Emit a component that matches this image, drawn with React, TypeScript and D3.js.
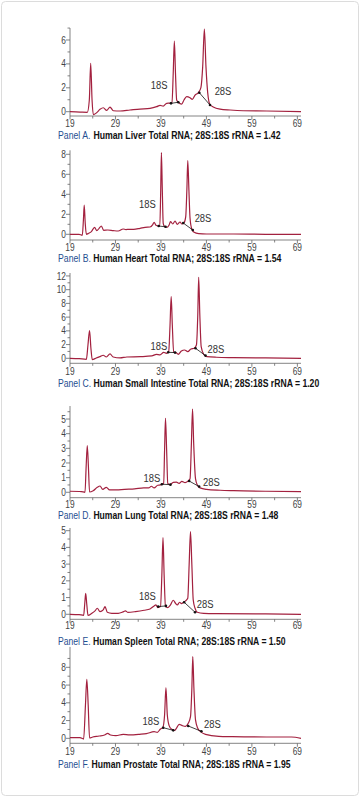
import React from "react";
import * as d3 from "d3";

type Pt = [number, number];

// Migration time (s) vs fluorescence
const traceA: Pt[] = [
  [19.0, 0.0], [21.2, -0.03], [22.8, -0.05], [23.25, 0.98], [23.55, 4.05], [23.85, 0.98], [24.13, -0.25],
  [24.87, -0.08], [25.6, 0.2], [26.33, 0.33], [27.06, 0.11], [27.8, 0.39], [28.53, 0.08], [30.0, 0.06],
  [32.2, 0.14], [34.4, 0.22], [36.6, 0.28], [38.06, 0.42], [38.8, 0.53], [39.5, 0.47], [40.26, 0.7],
  [41.0, 0.72], [41.43, 0.75], [41.7, 3.2], [41.95, 5.9], [42.2, 3.2], [42.46, 0.98], [42.83, 0.79],
  [43.56, 0.64], [44.07, 0.98], [44.66, 1.26], [45.39, 1.17], [45.9, 1.03], [46.5, 1.39], [47.23, 1.6],
  [47.8, 2.04], [48.18, 3.77], [48.55, 6.92], [48.9, 3.77], [49.28, 1.6], [49.8, 0.58], [50.5, 0.4],
  [52.0, 0.22], [54.2, 0.14], [57.1, 0.08], [62.25, 0.06], [69.8, 0.0],
];
const traceB: Pt[] = [
  [19.0, 0.0], [21.0, 0.0], [21.7, -0.1], [21.95, 1.43], [22.13, 2.93], [22.35, 1.1], [22.6, 0.0],
  [23.1, 0.1], [23.7, 0.27], [24.4, 0.7], [24.9, 0.37], [25.4, 0.6], [25.9, 0.83], [26.4, 0.4],
  [27.3, 0.43], [28.5, 0.37], [29.6, 0.33], [30.7, 0.53], [31.3, 0.47], [32.0, 0.5], [33.0, 0.5],
  [34.4, 0.6], [35.5, 0.7], [36.6, 0.73], [37.2, 0.97], [37.5, 1.2], [37.9, 0.9], [38.4, 0.83],
  [38.75, 0.83], [38.95, 4.43], [39.1, 8.17], [39.3, 4.43], [39.5, 1.1], [39.8, 0.77], [40.3, 0.7],
  [40.8, 0.93], [41.1, 1.27], [41.6, 1.03], [42.1, 1.33], [42.6, 1.0], [43.2, 1.23], [43.6, 1.03],
  [44.1, 1.17], [44.45, 1.77], [44.7, 4.43], [44.9, 7.37], [45.15, 4.43], [45.4, 1.6], [45.8, 0.5],
  [46.3, 0.2], [47.3, 0.07], [49.0, 0.03], [55.0, 0.03], [62.0, 0.0], [69.8, 0.0],
];
const traceC: Pt[] = [
  [19.0, 0.0], [21.0, -0.05], [22.6, -0.15], [22.95, 1.94], [23.3, 4.03], [23.6, 1.46], [23.9, -0.19],
  [24.8, 0.05], [25.6, 0.24], [26.3, 0.44], [27.0, 0.19], [27.8, 0.63], [28.5, 0.19], [30.0, 0.05],
  [31.5, 0.19], [34.5, 0.24], [37.0, 0.34], [38.0, 0.58], [38.8, 0.49], [39.6, 0.87], [40.2, 0.73],
  [40.7, 0.97], [41.0, 4.86], [41.25, 8.99], [41.5, 4.86], [41.8, 0.87], [42.3, 0.83], [42.8, 0.58],
  [43.5, 1.07], [44.2, 1.21], [44.9, 0.97], [45.6, 1.36], [46.3, 1.46], [46.8, 1.94], [47.1, 6.32],
  [47.3, 11.8], [47.55, 6.32], [47.85, 1.7], [48.4, 0.58], [49.1, 0.24], [51.2, 0.15], [54.9, 0.1],
  [62.0, 0.05], [69.8, 0.0],
];
const traceD: Pt[] = [
  [19.0, 0.07], [21.5, 0.05], [22.3, 0.0], [22.55, 1.75], [22.8, 3.18], [23.05, 1.75], [23.3, 0.02],
  [24.1, 0.11], [25.0, 0.34], [25.6, 0.43], [26.2, 0.2], [27.0, 0.34], [27.7, 0.16], [29.2, 0.16],
  [31.0, 0.2], [33.2, 0.23], [35.2, 0.3], [36.3, 0.3], [36.9, 0.41], [37.5, 0.3], [38.3, 0.48],
  [38.9, 0.5], [39.3, 0.57], [39.6, 0.59], [39.8, 2.89], [40.0, 5.05], [40.25, 2.89], [40.5, 0.61],
  [41.0, 0.52], [41.7, 0.68], [42.4, 0.7], [43.0, 0.61], [43.6, 0.75], [44.3, 0.66], [44.9, 0.75],
  [45.4, 0.93], [45.7, 3.34], [45.95, 5.68], [46.2, 3.34], [46.6, 0.93], [47.0, 0.5], [47.6, 0.3],
  [49.0, 0.2], [52.0, 0.14], [55.0, 0.11], [62.0, 0.07], [69.8, 0.05],
];
const traceE: Pt[] = [
  [19.0, 0.0], [21.0, -0.02], [22.0, -0.06], [22.25, 0.66], [22.45, 1.25], [22.7, 0.56], [22.95, -0.06],
  [23.8, 0.06], [24.5, 0.2], [25.0, 0.36], [25.6, 0.16], [26.3, 0.26], [26.7, 0.46], [27.2, 0.12],
  [28.2, 0.06], [29.6, 0.06], [30.8, 0.16], [31.2, 0.2], [31.7, 0.12], [33.4, 0.16], [35.3, 0.24],
  [36.6, 0.32], [37.5, 0.5], [37.9, 0.56], [38.3, 0.4], [38.9, 0.46], [39.2, 2.35], [39.45, 4.58],
  [39.7, 2.35], [40.0, 0.46], [40.5, 0.4], [41.1, 0.56], [41.7, 0.84], [42.2, 0.66], [42.6, 0.56],
  [43.1, 0.72], [43.5, 0.64], [44.0, 0.72], [44.4, 0.8], [44.9, 0.96], [45.2, 2.95], [45.5, 4.94],
  [45.8, 2.95], [46.1, 0.86], [46.5, 0.36], [47.0, 0.12], [48.4, 0.06], [51.3, 0.04], [62.0, 0.02],
  [69.8, 0.0],
];
const traceF: Pt[] = [
  [19.0, 0.08], [21.2, 0.08], [22.0, -0.08], [22.4, 3.76], [22.7, 6.65], [23.0, 3.76], [23.3, 0.04],
  [24.0, 0.15], [25.4, 0.26], [26.6, 0.38], [27.3, 0.56], [27.9, 0.38], [29.1, 0.3], [30.7, 0.45],
  [32.1, 0.38], [34.3, 0.45], [35.8, 0.53], [37.5, 0.75], [38.2, 0.68], [38.9, 1.05], [39.4, 1.2],
  [39.8, 2.63], [40.1, 5.71], [40.4, 2.63], [40.8, 1.43], [41.3, 1.05], [42.0, 0.9], [42.4, 1.13],
  [43.0, 1.58], [43.7, 1.43], [44.4, 1.35], [45.0, 1.69], [45.5, 2.44], [45.8, 5.64], [46.0, 9.21],
  [46.25, 5.64], [46.6, 2.07], [47.1, 1.13], [47.7, 0.75], [48.8, 0.45], [51.7, 0.23], [54.7, 0.19],
  [62.2, 0.15], [67.7, 0.15], [69.8, 0.0],
];

// baseline integration segments [x1, y1, x2, y2]
const seg18S: number[][] = [
  [41.21, 0.7, 42.82, 0.79],
  [38.5, 0.83, 40.0, 0.75],
  [40.6, 0.87, 42.1, 0.83],
  [39.2, 0.55, 41.1, 0.52],
  [38.4, 0.46, 40.1, 0.5],
  [39.5, 1.2, 41.7, 0.9],
];
const seg28S: number[][] = [
  [47.44, 1.59, 49.79, 0.56],
  [43.9, 1.13, 46.0, 0.43],
  [46.6, 1.46, 48.8, 0.39],
  [45.2, 0.77, 47.4, 0.39],
  [44.1, 0.72, 46.5, 0.12],
  [45.0, 1.39, 47.9, 0.79],
];
// label anchors (data units: centre x, baseline y)
const label18S: number[][] = [[38.6, 1.94], [36.04, 2.6], [38.57, 1.25], [37.0, 0.72], [36.04, 0.84], [36.8, 1.5]];
const label28S: number[][] = [[52.65, 1.4], [48.25, 1.26], [51.1, 0.82], [50.1, 0.45], [48.7, 0.36], [50.3, 1.13]];

const panelLetters = ["A", "B", "C", "D", "E", "F"];
const captions = [
  "Human Liver Total RNA; 28S:18S rRNA = 1.42",
  "Human Heart Total RNA; 28S:18S rRNA = 1.54",
  "Human Small Intestine Total RNA; 28S:18S rRNA = 1.20",
  "Human Lung Total RNA; 28S:18S rRNA = 1.48",
  "Human Spleen Total RNA; 28S:18S rRNA = 1.50",
  "Human Prostate Total RNA; 28S:18S rRNA = 1.95",
];
const yDomains: number[][] = [[-0.36, 7.0], [-0.57, 8.4], [-0.73, 12.43], [-0.37, 5.89], [-0.3, 5.16], [-0.56, 10.3]];
const yMajorTicks: number[][] = [
  [0, 2, 4, 6], [0, 2, 4, 6, 8], [0, 2, 4, 6, 8, 10, 12], [0, 1, 2, 3, 4, 5], [0, 1, 2, 3, 4, 5], [0, 2, 4, 6, 8],
];
const yMinorTicks: number[][] = [
  [1, 3, 5, 7], [1, 3, 5, 7], [1, 3, 5, 7, 9, 11], [0.5, 1.5, 2.5, 3.5, 4.5, 5.5], [0.5, 1.5, 2.5, 3.5, 4.5], [1, 3, 5, 7, 9],
];
const xLabeledTicks = [19, 29, 39, 49, 59, 69];
const xMinorTicks = [24, 34, 44, 54, 64];
const xDomain = [19, 69.8];

const traces = [traceA, traceB, traceC, traceD, traceE, traceF];

// layout in pixels: plot top / bottom, x-label baseline, caption baseline & width
const layout = [
  { top: 28.05, bottom: 116, xlab: 127.3, caption: 139, capW: 223 },
  { top: 150.3, bottom: 240, xlab: 251, caption: 261.8, capW: 224 },
  { top: 273, bottom: 363.3, xlab: 375, caption: 386.8, capW: 262 },
  { top: 406, bottom: 497.7, xlab: 507.5, caption: 519, capW: 221 },
  { top: 528, bottom: 619.3, xlab: 629, caption: 645, capW: 228 },
  { top: 646.9, bottom: 743.3, xlab: 755, caption: 768, capW: 233 },
];

const LEFT = 70;
const RIGHT = 301;
const FONT = "'Liberation Sans', Arial, sans-serif";
const LINE = "#a3213f";
const NARROW = 0.82;
const CAP_SIZE = 10;
const TICK_SIZE = 10.2;

let _ctx: CanvasRenderingContext2D | null = null;
function measure(text: string, weight: string, size: number): number {
  if (typeof document === "undefined") return text.length * size * 0.55;
  if (!_ctx) _ctx = document.createElement("canvas").getContext("2d");
  if (!_ctx) return text.length * size * 0.55;
  _ctx.font = `${weight} ${size}px 'Liberation Sans', Arial, sans-serif`;
  return _ctx.measureText(text).width;
}

function NText({
  x,
  y,
  anchor,
  size,
  fill,
  dy,
  sx = NARROW,
  weight = "normal",
  children,
}: {
  x: number;
  y: number;
  anchor: "start" | "middle" | "end";
  size: number;
  fill: string;
  dy?: string;
  sx?: number;
  weight?: string;
  children: React.ReactNode;
}) {
  return (
    <text
      transform={`translate(${x},${y}) scale(${sx},1)`}
      textAnchor={anchor}
      fontSize={size}
      fontWeight={weight}
      fill={fill}
      dy={dy}
      fontFamily={FONT}
    >
      {children}
    </text>
  );
}

function Caption({ i }: { i: number }) {
  const L = layout[i];
  const head = `Panel ${panelLetters[i]}.`;
  const body = captions[i];
  const wHead = measure(head + " ", "normal", CAP_SIZE);
  const wBody = measure(body, "bold", CAP_SIZE);
  const sx = L.capW / (wHead + wBody);
  return (
    <g>
      <NText x={58} y={L.caption} anchor="start" size={CAP_SIZE} fill="#1f4f91" sx={sx}>
        {head}
      </NText>
      <NText x={58 + wHead * sx} y={L.caption} anchor="start" size={CAP_SIZE} fill="#111" sx={sx} weight="bold">
        {body}
      </NText>
    </g>
  );
}

function Panel({ i }: { i: number }) {
  const L = layout[i];
  const x = d3.scaleLinear().domain(xDomain).range([LEFT, RIGHT]);
  const y = d3.scaleLinear().domain(yDomains[i]).range([L.bottom, L.top]);
  const line = d3
    .line<Pt>()
    .x((d) => x(d[0]))
    .y((d) => y(d[1]))
    .curve(d3.curveMonotoneX);
  const segs = [seg18S[i], seg28S[i]];
  return (
    <g>
      <line x1={LEFT} x2={LEFT} y1={L.top} y2={L.bottom} stroke="#666" strokeWidth={0.8} />
      <line x1={LEFT} x2={RIGHT} y1={L.bottom} y2={L.bottom} stroke="#666" strokeWidth={0.8} />
      {yMajorTicks[i].map((t) => (
        <g key={"ym" + t}>
          <line x1={LEFT - 4} x2={LEFT} y1={y(t)} y2={y(t)} stroke="#666" strokeWidth={0.8} />
          <NText x={LEFT - 4} y={y(t)} dy="0.35em" anchor="end" size={TICK_SIZE} fill="#444">
            {t}
          </NText>
        </g>
      ))}
      {yMinorTicks[i].map((t) => (
        <line key={"yn" + t} x1={LEFT - 2.5} x2={LEFT} y1={y(t)} y2={y(t)} stroke="#666" strokeWidth={0.8} />
      ))}
      {xLabeledTicks.map((t) => (
        <g key={"xm" + t}>
          <line x1={x(t)} x2={x(t)} y1={L.bottom} y2={L.bottom + 3.5} stroke="#666" strokeWidth={0.8} />
          <NText x={x(t)} y={L.xlab} anchor="middle" size={TICK_SIZE} fill="#444">
            {t}
          </NText>
        </g>
      ))}
      {xMinorTicks.map((t) => (
        <line key={"xn" + t} x1={x(t)} x2={x(t)} y1={L.bottom} y2={L.bottom + 2.5} stroke="#666" strokeWidth={0.8} />
      ))}
      <path d={line(traces[i]) || ""} fill="none" stroke={LINE} strokeWidth={1.2} strokeLinejoin="round" />
      {segs.map((s, k) => (
        <g key={"s" + k}>
          <line x1={x(s[0])} y1={y(s[1])} x2={x(s[2])} y2={y(s[3])} stroke="#111" strokeWidth={0.8} />
          <circle cx={x(s[0])} cy={y(s[1])} r={1.3} fill="#111" />
          <circle cx={x(s[2])} cy={y(s[3])} r={1.3} fill="#111" />
        </g>
      ))}
      <NText x={x(label18S[i][0])} y={y(label18S[i][1])} anchor="middle" size={11.5} fill="#333">
        18S
      </NText>
      <NText x={x(label28S[i][0])} y={y(label28S[i][1])} anchor="middle" size={11.5} fill="#333">
        28S
      </NText>
      <Caption i={i} />
    </g>
  );
}

export default function App() {
  return (
    <svg width={360} height={797} style={{ position: "absolute", left: 0, top: 0, background: "#fff" }}>
      <rect x={1.5} y={1.5} width={357} height={794} rx={4} fill="#fff" stroke="#dcdcdc" strokeWidth={1} />
      {panelLetters.map((_, i) => (
        <Panel key={i} i={i} />
      ))}
    </svg>
  );
}
